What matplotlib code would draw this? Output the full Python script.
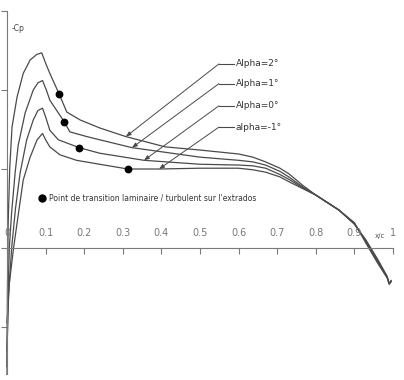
import numpy as np
import matplotlib
matplotlib.use("Agg")
import matplotlib.pyplot as plt
from matplotlib.lines import Line2D

# -Cp along the chord (upper surface)
x_a2 = [0.0, 0.001, 0.003, 0.007, 0.013, 0.026, 0.042, 0.06, 0.077, 0.09, 0.1, 0.111, 0.135, 0.155, 0.19, 0.24,
        0.308, 0.41, 0.5, 0.6, 0.637, 0.67, 0.707, 0.73, 0.767, 0.8, 0.86, 0.9, 0.93, 0.96, 0.985, 0.99, 0.995]
cp_a2 = [-1.6, -0.6, 0.3, 1.0, 1.53, 1.91, 2.21, 2.38, 2.45, 2.47, 2.34, 2.21, 1.95, 1.72, 1.62, 1.52,
         1.41, 1.28, 1.24, 1.19, 1.15, 1.09, 1.01, 0.94, 0.79, 0.67, 0.48, 0.32, 0.06, -0.19, -0.38, -0.45, -0.41]

x_a1 = [0.0, 0.002, 0.006, 0.012, 0.021, 0.029, 0.047, 0.068, 0.08, 0.092, 0.102, 0.111, 0.148, 0.163, 0.207, 0.24,
        0.324, 0.5, 0.6, 0.637, 0.67, 0.707, 0.73, 0.767, 0.8, 0.86, 0.9, 0.93, 0.96, 0.985, 0.99, 0.995]
cp_a1 = [-1.5, -0.7, 0.0, 0.45, 0.95, 1.3, 1.71, 2.0, 2.09, 2.12, 2.0, 1.87, 1.6, 1.47, 1.41, 1.37,
         1.27, 1.15, 1.11, 1.09, 1.05, 0.97, 0.9, 0.77, 0.67, 0.48, 0.31, 0.08, -0.17, -0.37, -0.45, -0.42]

x_a0 = [0.0, 0.004, 0.012, 0.022, 0.034, 0.051, 0.068, 0.08, 0.092, 0.1, 0.111, 0.133, 0.187, 0.24, 0.355,
        0.5, 0.6, 0.637, 0.67, 0.707, 0.73, 0.767, 0.8, 0.86, 0.9, 0.93, 0.96, 0.985, 0.99, 0.995]
cp_a0 = [-1.3, -0.6, 0.0, 0.5, 0.95, 1.37, 1.62, 1.74, 1.77, 1.66, 1.49, 1.37, 1.27, 1.2, 1.11,
         1.06, 1.05, 1.04, 1.01, 0.93, 0.87, 0.76, 0.67, 0.48, 0.31, 0.09, -0.16, -0.37, -0.45, -0.42]

x_am1 = [0.0, 0.006, 0.017, 0.03, 0.042, 0.06, 0.078, 0.092, 0.1, 0.111, 0.137, 0.18, 0.24, 0.313, 0.394,
         0.5, 0.6, 0.637, 0.67, 0.707, 0.73, 0.767, 0.8, 0.86, 0.9, 0.93, 0.96, 0.985, 0.99, 0.995]
cp_am1 = [-0.95, -0.45, 0.0, 0.45, 0.86, 1.15, 1.37, 1.45, 1.37, 1.28, 1.18, 1.11, 1.06, 1.0, 1.0,
          1.01, 1.01, 0.99, 0.96, 0.9, 0.84, 0.75, 0.67, 0.48, 0.30, 0.10, -0.14, -0.36, -0.46, -0.43]

labels = ["Alpha=2°", "Alpha=1°", "Alpha=0°", "alpha=-1°"]
trans_x = [0.135, 0.148, 0.187, 0.313]   # transition laminaire / turbulent
arrow_x = [0.308, 0.324, 0.355, 0.394]   # where the label arrows hit the curves
label_y = [2.33, 2.08, 1.80, 1.53]

x_ticks = [0, 0.1, 0.2, 0.3, 0.4, 0.5, 0.6, 0.7, 0.8, 0.9, 1]
y_ticks = [-1, 0, 1, 2, 3]

curves = [(x_a2, cp_a2), (x_a1, cp_a1), (x_a0, cp_a0), (x_am1, cp_am1)]
line_col = "#4a4a4a"
axis_col = "#7a7a7a"

fig = plt.figure(figsize=(4.04, 3.80), dpi=100)
ax = fig.add_axes([0, 0, 1, 1])
ax.set_xlim(-7 / 386, 397 / 386)
ax.set_ylim(-132 / 79, 248 / 79)

for (xs, ys) in curves:
    ax.plot(xs, ys, color=line_col, lw=0.9)

# transition points
for (xs, ys), tx in zip(curves, trans_x):
    ax.plot(tx, np.interp(tx, xs, ys), "o", color="black", ms=4.6)

# labels with leader lines
elbow_x = 0.549
for (xs, ys), lab, ax_x, ly in zip(curves, labels, arrow_x, label_y):
    ty = np.interp(ax_x, xs, ys)
    ax.annotate("", xy=(ax_x, ty), xytext=(elbow_x, ly),
                arrowprops=dict(arrowstyle="-|>,head_length=0.3,head_width=0.12",
                                color=line_col, lw=0.7, shrinkA=0, shrinkB=0))
    ax.plot([elbow_x, 0.588], [ly, ly], color=line_col, lw=0.8)
    ax.text(0.593, ly, lab, fontsize=6.5, color="#333333", va="center", ha="left")

# axes through the origin
for side in ["top", "right"]:
    ax.spines[side].set_visible(False)
ax.spines["left"].set_position(("data", 0))
ax.spines["bottom"].set_position(("data", 0))
ax.spines["left"].set_bounds(-1.6, 3)
ax.spines["bottom"].set_bounds(0, 1)
ax.spines["left"].set_color(axis_col)
ax.spines["bottom"].set_color(axis_col)
ax.set_xticks(x_ticks)
ax.set_yticks(y_ticks)
ax.set_xticklabels([])
ax.set_yticklabels([])
ax.tick_params(axis="both", colors=axis_col, length=4, width=0.8, direction="out")

for t in x_ticks:
    ax.text(t, 0.13, "%g" % t, fontsize=7, color="#777777", ha="center", va="bottom")
ax.text(0.965, 0.12, "x/c", fontsize=5, color="#555555", ha="center", va="bottom")
ax.text(0.013, 2.78, "-Cp", fontsize=5.5, color="#444444", ha="left", va="center")

h = Line2D([], [], marker="o", color="black", ls="none", ms=5)
ax.legend([h], ["Point de transition laminaire / turbulent sur l'extrados"],
          loc="center left", bbox_to_anchor=(0.085, 0.479), frameon=False,
          fontsize=5.5, handlelength=1.0, handletextpad=0.4, borderpad=0,
          labelcolor="#333333")

fig.savefig("out.png", dpi=100)
